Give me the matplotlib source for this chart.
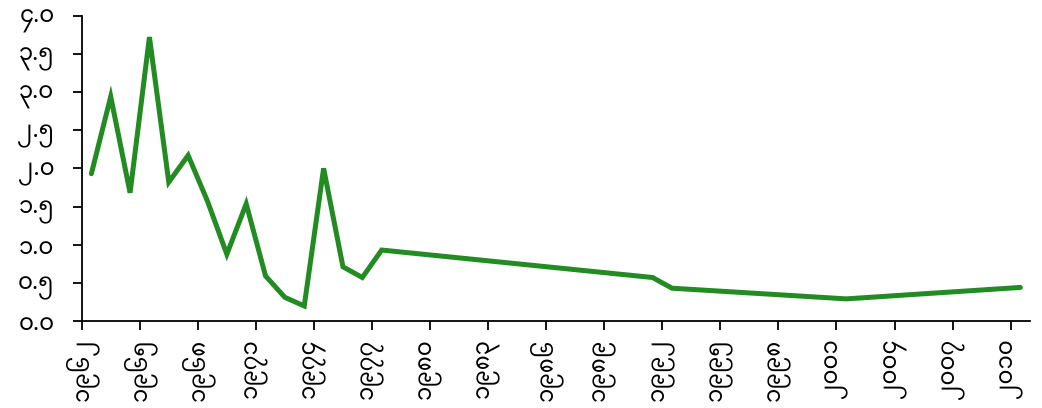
import matplotlib
matplotlib.use("Agg")
import matplotlib.pyplot as plt
import numpy as np

# years with a value (plotted at mid-year)
years = [1962, 1963, 1964, 1965, 1966, 1967, 1968, 1969, 1970, 1971,
         1972, 1973, 1974, 1975, 1976, 1977, 1991, 1992, 2001, 2010]
values = [1.93, 2.94, 1.68, 3.72, 1.82, 2.17, 1.57, 0.875, 1.535, 0.59,
          0.31, 0.197, 2.0, 0.71, 0.57, 0.93, 0.57, 0.43, 0.29, 0.44]

tick_years = list(range(1962, 2011, 3))
y_ticks = [0.0, 0.5, 1.0, 1.5, 2.0, 2.5, 3.0, 3.5, 4.0]

MM_DIGITS = str.maketrans("0123456789", "၀၁၂၃၄၅၆၇၈၉")


def mm(s):
    return str(s).translate(MM_DIGITS)


plt.rcParams['font.family'] = ['Noto Sans Myanmar', 'DejaVu Sans']

fig = plt.figure(figsize=(10.42, 4.08), dpi=100)
ax = fig.add_axes([0.0784, 0.2132, 0.9101, 0.7483])

ax.plot(np.array(years) + 0.5, values, color='#228B22', linewidth=3.6,
        solid_capstyle='round', solid_joinstyle='miter')

ax.set_xlim(1962, 2011)
ax.set_ylim(0, 4)
ax.set_xticks(tick_years)
ax.set_xticklabels([mm(y) for y in tick_years], rotation=90)
ax.set_yticks(y_ticks)
ax.set_yticklabels([mm('%.1f' % v) for v in y_ticks])

for side in ['top', 'right']:
    ax.spines[side].set_visible(False)
for side in ['left', 'bottom']:
    ax.spines[side].set_linewidth(1.3)
ax.tick_params(length=6.5, width=1.3, labelsize=16.5, colors='black')
ax.tick_params(axis='y', pad=13)
ax.tick_params(axis='x', pad=6)

fig.savefig('out.png', dpi=100)
